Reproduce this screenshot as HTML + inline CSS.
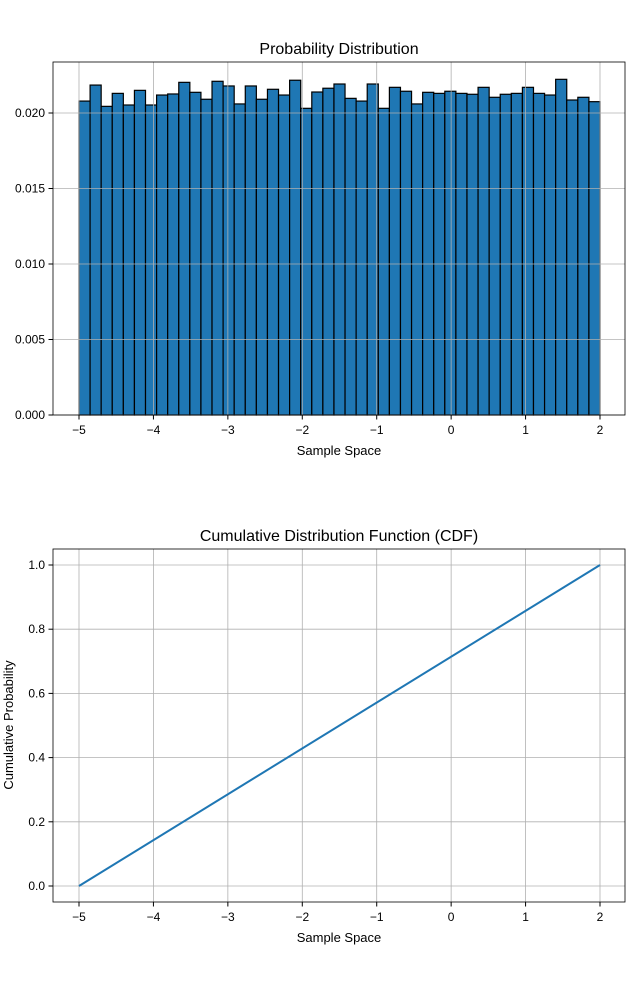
<!DOCTYPE html>
<html><head><meta charset="utf-8"><style>
body{margin:0;background:#fff}
svg{display:block;font-family:"Liberation Sans","DejaVu Sans",sans-serif}
</style></head><body>
<svg id="c" width="635" height="999"></svg>
<script>
const binStart=-5, binEnd=2;
const density=[0.02079,0.02185,0.02044,0.0213,0.02053,0.0215,0.02053,0.02119,0.02126,0.02203,0.02137,0.02091,0.0221,0.02179,0.0206,0.02179,0.02091,0.02157,0.02119,0.02217,0.02031,0.02139,0.02164,0.02192,0.02097,0.02079,0.02192,0.02031,0.0217,0.02144,0.0206,0.02137,0.0213,0.02144,0.0213,0.02124,0.0217,0.02104,0.02124,0.0213,0.0217,0.0213,0.02119,0.02223,0.02086,0.02104,0.02075];
const xTicks=[-5,-4,-3,-2,-1,0,1,2];
const yTicksTop=[0,0.005,0.01,0.015,0.02];
const yTickLabelsTop=["0.000","0.005","0.010","0.015","0.020"];
const cdfX=[-5,2];
const cdfY=[0,1];
const yTicksBot=[0,0.2,0.4,0.6,0.8,1.0];
const yTickLabelsBot=["0.0","0.2","0.4","0.6","0.8","1.0"];

const NS="http://www.w3.org/2000/svg";
const svg=document.getElementById('c');
function el(t,a,p){const e=document.createElementNS(NS,t);for(const k in a)e.setAttribute(k,a[k]);(p||svg).appendChild(e);return e;}
const xs=v=>79+(v+5)*(521/7);
const ysT=v=>415-v*(302/0.02);
const ysB=v=>886-v*321;
const minus=s=>String(s).replace('-','\u2212');

// top chart
const g1=el('g',{});


const bw=(binEnd-binStart)/density.length;
density.forEach((d,i)=>{const x0=xs(binStart+i*bw),x1=xs(binStart+(i+1)*bw);
 const r=el('rect',{x:x0,y:ysT(d),width:x1-x0,height:415-ysT(d),fill:'#1f77b4',stroke:'#000','stroke-width':1.2},g1);
 
 });
xTicks.forEach(t=>{const l=el('line',{x1:xs(t),x2:xs(t),y1:62,y2:415,stroke:'#b0b0b0','stroke-width':0.8},g1);});
yTicksTop.forEach(t=>{const l=el('line',{x1:53,x2:625,y1:ysT(t),y2:ysT(t),stroke:'#b0b0b0','stroke-width':0.8},g1);});
el('rect',{x:53,y:62,width:572,height:353,fill:'none',stroke:'#000','stroke-width':0.8},g1);
xTicks.forEach(t=>{el('line',{x1:xs(t),x2:xs(t),y1:415,y2:419.5,stroke:'#000'},g1);
 const tx=el('text',{x:xs(t),y:434,'font-size':12,'text-anchor':'middle'},g1);tx.textContent=minus(t);
 });
yTicksTop.forEach((t,i)=>{el('line',{x1:48.5,x2:53,y1:ysT(t),y2:ysT(t),stroke:'#000'},g1);
 const tx=el('text',{x:45,y:ysT(t)+4,'font-size':12,'text-anchor':'end'},g1);tx.textContent=yTickLabelsTop[i];
 });
let t=el('text',{x:339,y:54,'font-size':16,'text-anchor':'middle'},g1);t.textContent='Probability Distribution';

t=el('text',{x:339,y:455,'font-size':13,'text-anchor':'middle'},g1);t.textContent='Sample Space';


// bottom chart
const g2=el('g',{});


xTicks.forEach(t=>{const l=el('line',{x1:xs(t),x2:xs(t),y1:549,y2:902,stroke:'#b0b0b0','stroke-width':0.8},g2);});
yTicksBot.forEach(t=>{const l=el('line',{x1:53,x2:625,y1:ysB(t),y2:ysB(t),stroke:'#b0b0b0','stroke-width':0.8},g2);});
const p=el('polyline',{points:cdfX.map((x,i)=>xs(x)+','+ysB(cdfY[i])).join(' '),fill:'none',stroke:'#1f77b4','stroke-width':2},g2);

el('rect',{x:53,y:549,width:572,height:353,fill:'none',stroke:'#000','stroke-width':0.8},g2);
xTicks.forEach(t=>{el('line',{x1:xs(t),x2:xs(t),y1:902,y2:906.5,stroke:'#000'},g2);
 const tx=el('text',{x:xs(t),y:921,'font-size':12,'text-anchor':'middle'},g2);tx.textContent=minus(t);
 });
yTicksBot.forEach((t,i)=>{el('line',{x1:48.5,x2:53,y1:ysB(t),y2:ysB(t),stroke:'#000'},g2);
 const tx=el('text',{x:45,y:ysB(t)+4,'font-size':12,'text-anchor':'end'},g2);tx.textContent=yTickLabelsBot[i];
 });
t=el('text',{x:339,y:541,'font-size':16,'text-anchor':'middle'},g2);t.textContent='Cumulative Distribution Function (CDF)';

t=el('text',{x:339,y:942,'font-size':13,'text-anchor':'middle'},g2);t.textContent='Sample Space';

t=el('text',{x:13,y:725,'font-size':13,'text-anchor':'middle',transform:'rotate(-90 13 725)'},g2);t.textContent='Cumulative Probability';

</script>
</body></html>
